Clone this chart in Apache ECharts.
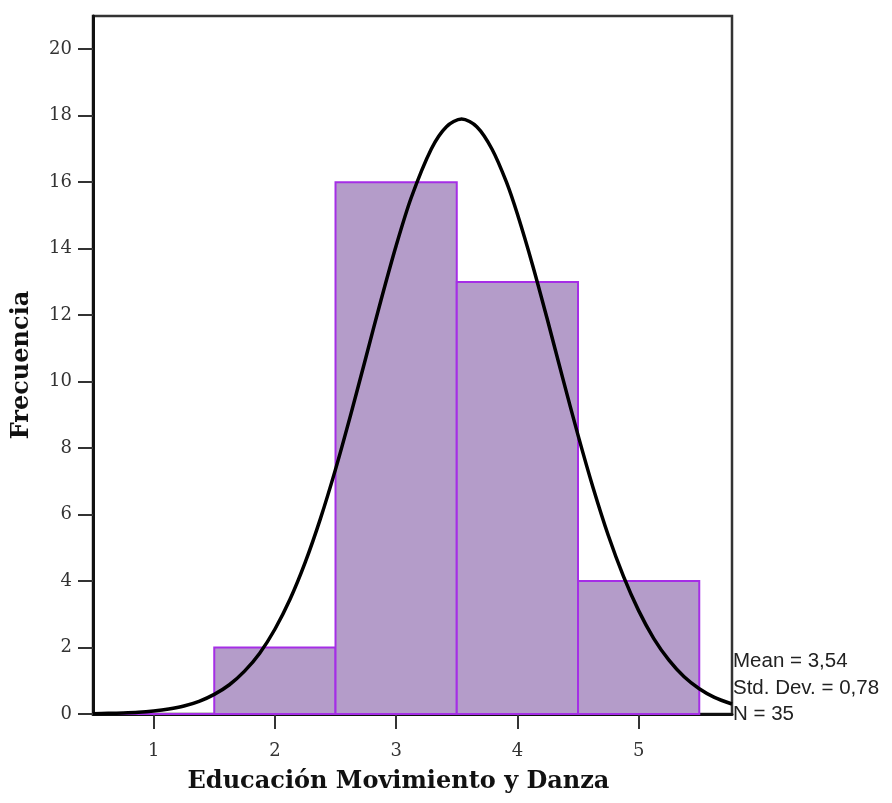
<!DOCTYPE html>
<html>
<head>
<meta charset="utf-8">
<script src="https://cdn.jsdelivr.net/npm/echarts@6/dist/echarts.min.js"></script>
<style>
html,body{margin:0;padding:0;background:#fff;}
#chart{width:892px;height:803px;}
</style>
</head>
<body>
<div id="chart"></div>
<script>
// Histogram bins
var binStart = [0.5, 1.5, 2.5, 3.5, 4.5];
var binEnd   = [1.5, 2.5, 3.5, 4.5, 5.5];
var counts   = [0, 2, 16, 13, 4];

// Normal curve
var curveX = [0.5, 0.625, 0.75, 0.875, 1.0, 1.125, 1.25, 1.375, 1.5, 1.625, 1.75, 1.875, 2.0, 2.125, 2.25, 2.375, 2.5, 2.625, 2.75, 2.875, 3.0, 3.125, 3.29, 3.415, 3.54, 3.665, 3.79, 3.91, 4.0, 4.125, 4.25, 4.375, 4.5, 4.625, 4.75, 4.875, 5.0, 5.125, 5.25, 5.375, 5.5, 5.625, 5.77];
var curveY = [0.01, 0.02, 0.03, 0.05, 0.09, 0.15, 0.24, 0.38, 0.59, 0.88, 1.29, 1.83, 2.55, 3.45, 4.56, 5.87, 7.36, 9.00, 10.72, 12.45, 14.09, 15.54, 17.00, 17.67, 17.90, 17.67, 17.00, 16.00, 15.04, 13.51, 11.83, 10.09, 8.39, 6.80, 5.37, 4.14, 3.11, 2.27, 1.62, 1.12, 0.76, 0.50, 0.30];

var xTicks = [1, 2, 3, 4, 5];
var yTicks = [0, 2, 4, 6, 8, 10, 12, 14, 16, 18, 20];

var statsLines = ['Mean = 3,54', 'Std. Dev. = 0,78', 'N = 35'];
var xTitle = 'Educación Movimiento y Danza';
var yTitle = 'Frecuencia';

var barData = binStart.map(function (s, i) { return [s, binEnd[i], counts[i]]; });
var curveData = curveX.map(function (x, i) { return [x, curveY[i]]; });

var chart = echarts.init(document.getElementById('chart'), null, {renderer: 'canvas'});

var tickFont = {fontFamily: 'DejaVu Serif', fontSize: 18, color: '#333'};

var option = {
  backgroundColor: '#fff',
  animation: false,
  grid: {left: 93, top: 16, right: 160, bottom: 89, show: true, borderColor: '#333', borderWidth: 2.5, backgroundColor: 'transparent'},
  xAxis: {
    type: 'value', min: 0.5, max: 5.77,
    splitLine: {show: false},
    axisLine: {show: true, onZero: false, lineStyle: {color: '#111', width: 3}},
    axisTick: {show: true, inside: false, length: 15, lineStyle: {color: '#333', width: 2}, customValues: xTicks},
    axisLabel: Object.assign({margin: 28, customValues: xTicks, formatter: function (v) { return String(v); }}, tickFont),
    name: xTitle, nameLocation: 'middle', nameGap: 56,
    nameTextStyle: {fontFamily: 'DejaVu Serif', fontWeight: 'bold', fontSize: 24, color: '#111', padding: [0, 28, 0, 0]}
  },
  yAxis: {
    type: 'value', min: 0, max: 21,
    splitLine: {show: false},
    axisLine: {show: true, lineStyle: {color: '#111', width: 3}},
    axisTick: {show: true, inside: false, length: 15, lineStyle: {color: '#333', width: 2}, customValues: yTicks},
    axisLabel: Object.assign({margin: 21, customValues: yTicks, formatter: function (v) { return String(v); }}, tickFont),
    name: yTitle, nameLocation: 'middle', nameGap: 59, nameRotate: 90,
    nameTextStyle: {fontFamily: 'DejaVu Serif', fontWeight: 'bold', fontSize: 24, color: '#111'}
  },
  series: [
    {
      type: 'custom',
      data: barData,
      z: 2,
      clip: false,
      renderItem: function (params, api) {
        var p0 = api.coord([api.value(0), api.value(2)]);
        var p1 = api.coord([api.value(1), 0]);
        return {
          type: 'rect',
          shape: {x: p0[0], y: p0[1], width: p1[0] - p0[0], height: p1[1] - p0[1]},
          style: {fill: '#b49cc9', stroke: '#a52ee6', lineWidth: 2}
        };
      }
    },
    {
      type: 'line',
      data: curveData,
      smooth: 0.3,
      showSymbol: false,
      z: 5,
      lineStyle: {color: '#000', width: 3.5}
    }
  ],
  graphic: statsLines.map(function (t, i) {
    return {
      type: 'text', left: 733, top: 651 + i * 26.5, z: 10,
      style: {text: t, fontFamily: 'Liberation Sans', fontSize: 20.5, fill: '#222'}
    };
  })
};
chart.setOption(option);
</script>
</body>
</html>
